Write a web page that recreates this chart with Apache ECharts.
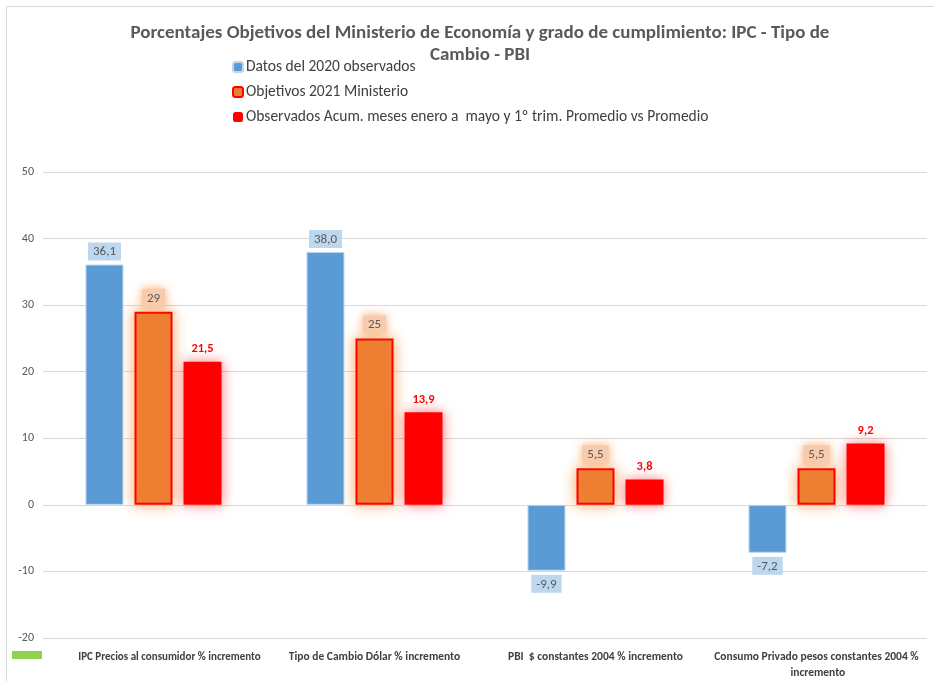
<!DOCTYPE html>
<html><head><meta charset="utf-8">
<script src="https://cdn.jsdelivr.net/npm/echarts@6/dist/echarts.min.js"></script>
<style>html,body{margin:0;padding:0;background:#fff}#c{width:934px;height:681px}</style>
</head><body><div id="c"></div>
<script>
const categories = ["IPC Precios al consumidor % incremento","Tipo de Cambio Dólar % incremento","PBI  $ constantes 2004 % incremento","Consumo Privado pesos constantes 2004 % incremento"];
const seriesNames = ["Datos del 2020 observados","Objetivos 2021 Ministerio","Observados Acum. meses enero a  mayo y 1º trim. Promedio vs Promedio"];
const datos2020 = [36.1, 38.0, -9.9, -7.2];
const objetivos2021 = [29, 25, 5.5, 5.5];
const observados = [21.5, 13.9, 3.8, 9.2];
const yTicks = [-20, -10, 0, 10, 20, 30, 40, 50];

const FONT = "Carlito, 'Liberation Sans Narrow', 'Open Sans', sans-serif";
const fmt = (v, d) => d ? v.toFixed(d).replace('.', ',') : String(v).replace('.', ',');

function mk(values, dec) {
  return values.map(v => ({value: v, label: {position: v < 0 ? 'bottom' : 'top', formatter: () => fmt(v, dec)}}));
}

const chart = echarts.init(document.getElementById('c'));
chart.setOption({
  backgroundColor: '#fff',
  animation: false,
  title: {
    text: 'Porcentajes Objetivos del Ministerio de Economía y grado de cumplimiento: IPC - Tipo de\nCambio - PBI',
    left: 475, top: 17, textAlign: 'center',
    textStyle: {fontFamily: FONT, fontSize: 19, fontWeight: 'bold', color: '#595959', lineHeight: 22}
  },
  legend: {
    orient: 'vertical', left: 227, top: 54, itemGap: 9, itemWidth: 10, itemHeight: 10,
    textStyle: {fontFamily: FONT, fontSize: 15.5, color: '#404040', padding: [0, 0, 0, -2]},
    data: seriesNames
  },
  grid: {left: 43, right: 7, top: 172, bottom: 43, containLabel: false},
  xAxis: {
    type: 'category', data: categories,
    axisLine: {show: false}, axisTick: {show: false},
    axisLabel: {
      interval: 0, margin: 11, width: 225, overflow: 'break',
      fontFamily: FONT, fontSize: 11.5, fontWeight: 'bold', color: '#404040', lineHeight: 16,
      formatter: (v, i) => i === 0 ? '{a|' + v + '}' : v,
      rich: {a: {padding: [0, 0, 0, 32], fontFamily: FONT, fontSize: 11, fontWeight: 'bold', color: '#404040'}}
    }
  },
  yAxis: {
    type: 'value', min: yTicks[0], max: yTicks[yTicks.length - 1], interval: 10,
    axisLine: {show: false}, axisTick: {show: false},
    axisLabel: {fontFamily: FONT, fontSize: 12, color: '#595959', margin: 9},
    splitLine: {lineStyle: {color: '#d9d9d9', width: 1}}
  },
  series: [
    {
      name: seriesNames[0], type: 'bar', data: mk(datos2020, 1), barWidth: 38, barGap: '29%',
      itemStyle: {color: '#5b9bd5', borderColor: '#bdd7ee', borderWidth: 1},
      label: {show: true, fontFamily: FONT, fontSize: 13, color: '#595959', backgroundColor: '#bdd7ee', padding: [3, 5, 2, 5], distance: 4}
    },
    {
      name: seriesNames[1], type: 'bar', data: mk(objetivos2021, 0), barWidth: 38,
      itemStyle: {color: '#ed7d31', borderColor: '#ff0000', borderWidth: 2, shadowBlur: 14, shadowColor: 'rgba(247,150,70,0.85)'},
      label: {show: true, fontFamily: FONT, fontSize: 13, color: '#595959', backgroundColor: '#f8cbad', padding: [3, 5, 2, 5], distance: 5,
        shadowBlur: 10, shadowColor: 'rgba(247,150,70,0.8)'}
    },
    {
      name: seriesNames[2], type: 'bar', data: mk(observados, 1), barWidth: 38,
      itemStyle: {color: '#ff0000', shadowBlur: 12, shadowColor: 'rgba(255,0,0,0.55)'},
      label: {show: true, fontFamily: FONT, fontSize: 12.5, fontWeight: 'bold', color: '#ff0000', distance: 6}
    }
  ],
  graphic: [
    {type: 'rect', shape: {x: 6.5, y: 6.5, width: 940, height: 700}, style: {fill: 'none', stroke: '#d9d9d9', lineWidth: 1}, silent: true},
    {type: 'rect', shape: {x: 12, y: 651, width: 30, height: 8}, style: {fill: '#92d050'}, silent: true}
  ]
});
</script></body></html>
